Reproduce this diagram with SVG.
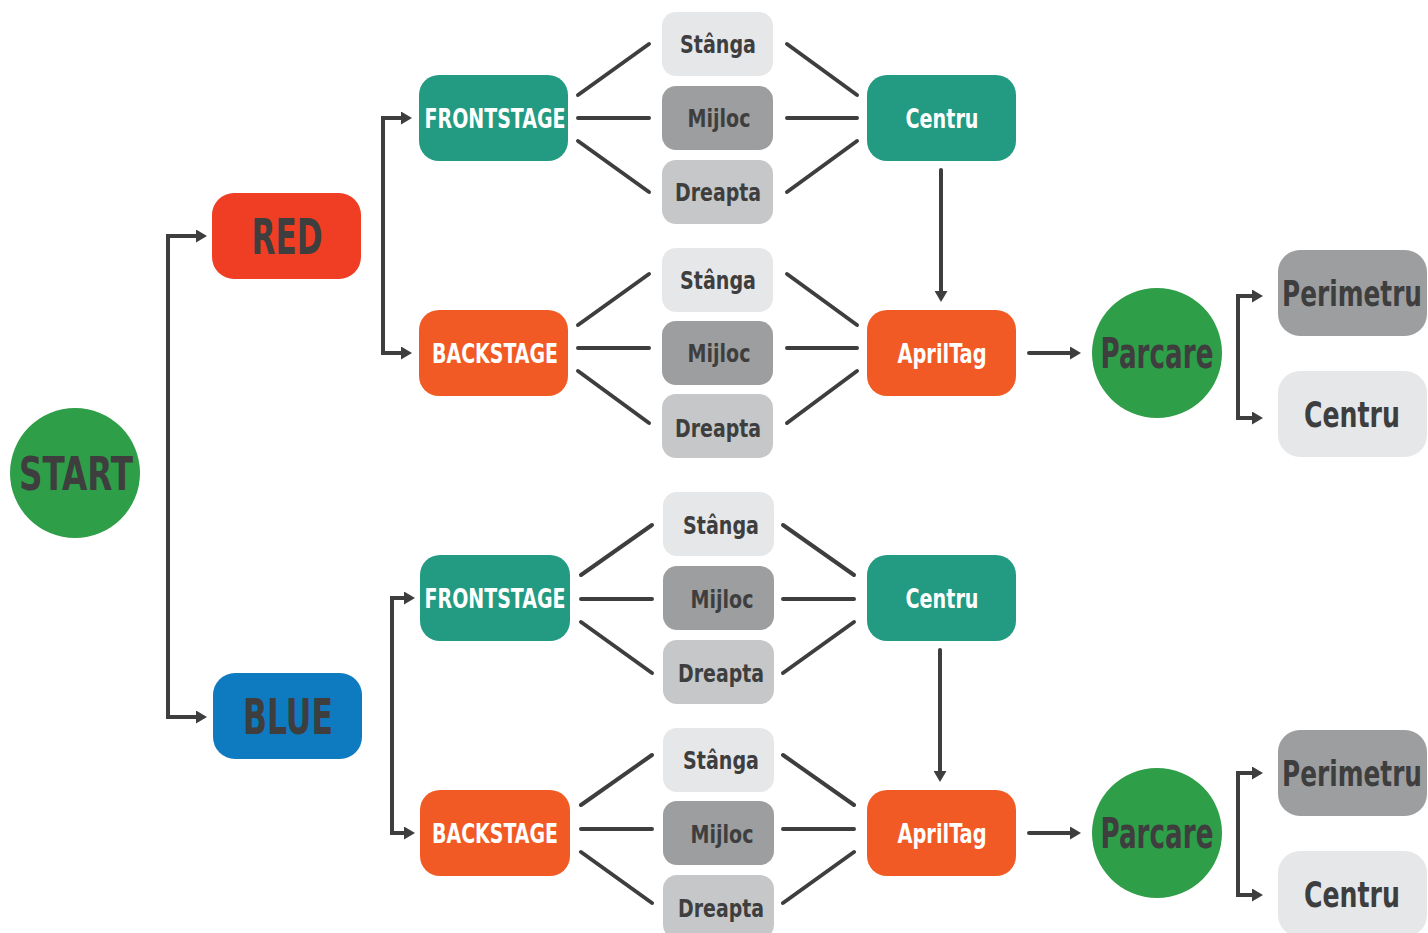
<svg xmlns="http://www.w3.org/2000/svg" width="1428" height="933" viewBox="0 0 1428 933">
  <style>
    .t { font-family: "Liberation Sans Narrow", "DejaVu Sans Condensed", "Liberation Sans", sans-serif; font-weight: bold; text-anchor: middle; }
    .dark { fill: #3e3e3f; }
    .light { fill: #ffffff; }
    .ln { stroke: #3e3e3f; stroke-width: 4; fill: none; stroke-linecap: round; stroke-linejoin: miter; }
    .arr { marker-end: url(#ah); }
    .teal { fill: #229b82; }
    .orange { fill: #f15a24; }
    .red { fill: #ef3e23; }
    .blue { fill: #0e7bc1; }
    .green { fill: #2e9e48; }
    .g1 { fill: #e6e7e8; }
    .g2 { fill: #9d9ea0; }
    .g3 { fill: #c6c7c8; }
  </style>
  <defs>
    <marker id="ah" markerWidth="11" markerHeight="13" refX="1" refY="6.5" orient="auto" markerUnits="userSpaceOnUse">
      <path d="M0,0 L11,6.5 L0,13 Z" fill="#3e3e3f"/>
    </marker>
  </defs>
  <rect width="1428" height="933" fill="#ffffff"/>

  <!-- connectors -->
  <g id="connectors">
    <!-- start split -->
    <path class="ln arr" d="M168,717 L168,236 L197,236"/>
    <path class="ln arr" d="M168,480 L168,717 L197,717"/>
    <!-- red split -->
    <path class="ln arr" d="M383,353 L383,118 L402,118"/>
    <path class="ln arr" d="M383,200 L383,353 L402,353"/>
    <!-- blue split -->
    <path class="ln arr" d="M392,833 L392,598 L405,598"/>
    <path class="ln arr" d="M392,700 L392,833 L405,833"/>

    <!-- red frontstage fan -->
    <path class="ln" d="M578,95 L649,44 M578,118 L649,118 M578,141 L649,192"/>
    <path class="ln" d="M787,44 L857,95 M787,118 L857,118 M787,192 L857,141"/>
    <!-- red backstage fan -->
    <path class="ln" d="M578,325 L649,274 M578,348 L649,348 M578,371 L649,423"/>
    <path class="ln" d="M787,274 L857,325 M787,348 L857,348 M787,423 L857,371"/>
    <!-- blue frontstage fan -->
    <path class="ln" d="M581,575 L652,525 M581,599 L652,599 M581,622 L652,673"/>
    <path class="ln" d="M783,525 L854,575 M783,599 L854,599 M783,673 L854,622"/>
    <!-- blue backstage fan -->
    <path class="ln" d="M581,805 L652,755 M581,829 L652,829 M581,852 L652,903"/>
    <path class="ln" d="M783,755 L854,805 M783,829 L854,829 M783,903 L854,852"/>

    <!-- centru to apriltag -->
    <path class="ln arr" d="M941,170 L941,292"/>
    <path class="ln arr" d="M940,650 L940,772"/>
    <!-- apriltag to parcare -->
    <path class="ln arr" d="M1029,353 L1071,353"/>
    <path class="ln arr" d="M1029,833 L1071,833"/>
    <!-- parcare split -->
    <path class="ln arr" d="M1238,418 L1238,296 L1253,296"/>
    <path class="ln arr" d="M1238,330 L1238,418 L1253,418"/>
    <path class="ln arr" d="M1238,895 L1238,773 L1253,773"/>
    <path class="ln arr" d="M1238,810 L1238,895 L1253,895"/>
  </g>

  <!-- start -->
  <g id="start">
    <circle class="green" cx="75" cy="473" r="65"/>
    <text class="t dark" x="76" y="490" font-size="47" textLength="114" lengthAdjust="spacingAndGlyphs">START</text>
  </g>

  <!-- alliance colours -->
  <g id="red">
    <rect class="red" x="212" y="193" width="149" height="86" rx="22"/>
    <text class="t dark" x="287" y="254" font-size="50" textLength="71" lengthAdjust="spacingAndGlyphs">RED</text>
  </g>
  <g id="blue">
    <rect class="blue" x="213" y="673" width="149" height="86" rx="22"/>
    <text class="t dark" x="288" y="734" font-size="50" textLength="90" lengthAdjust="spacingAndGlyphs">BLUE</text>
  </g>

  <!-- red side -->
  <g id="red-frontstage">
    <rect class="teal" x="419" y="75" width="149" height="86" rx="20"/>
    <text class="t light" x="495" y="128" font-size="27" textLength="141" lengthAdjust="spacingAndGlyphs">FRONTSTAGE</text>
  </g>
  <g id="red-backstage">
    <rect class="orange" x="419" y="310" width="149" height="86" rx="20"/>
    <text class="t light" x="495" y="363" font-size="27" textLength="126" lengthAdjust="spacingAndGlyphs">BACKSTAGE</text>
  </g>
  <g id="red-f-stanga">
    <rect class="g1" x="662" y="12" width="111" height="64" rx="14"/>
    <text class="t dark" x="718" y="53" font-size="25" textLength="76" lengthAdjust="spacingAndGlyphs">Stânga</text>
  </g>
  <g id="red-f-mijloc">
    <rect class="g2" x="662" y="86" width="111" height="64" rx="14"/>
    <text class="t dark" x="719" y="127" font-size="25" textLength="63" lengthAdjust="spacingAndGlyphs">Mijloc</text>
  </g>
  <g id="red-f-dreapta">
    <rect class="g3" x="662" y="160" width="111" height="64" rx="14"/>
    <text class="t dark" x="718" y="201" font-size="25" textLength="86" lengthAdjust="spacingAndGlyphs">Dreapta</text>
  </g>
  <g id="red-b-stanga">
    <rect class="g1" x="662" y="248" width="111" height="64" rx="14"/>
    <text class="t dark" x="718" y="289" font-size="25" textLength="76" lengthAdjust="spacingAndGlyphs">Stânga</text>
  </g>
  <g id="red-b-mijloc">
    <rect class="g2" x="662" y="321" width="111" height="64" rx="14"/>
    <text class="t dark" x="719" y="362" font-size="25" textLength="63" lengthAdjust="spacingAndGlyphs">Mijloc</text>
  </g>
  <g id="red-b-dreapta">
    <rect class="g3" x="662" y="394" width="111" height="64" rx="14"/>
    <text class="t dark" x="718" y="437" font-size="25" textLength="86" lengthAdjust="spacingAndGlyphs">Dreapta</text>
  </g>
  <g id="red-centru">
    <rect class="teal" x="867" y="75" width="149" height="86" rx="20"/>
    <text class="t light" x="942" y="128" font-size="27" textLength="73" lengthAdjust="spacingAndGlyphs">Centru</text>
  </g>
  <g id="red-apriltag">
    <rect class="orange" x="867" y="310" width="149" height="86" rx="20"/>
    <text class="t light" x="942" y="363" font-size="27" textLength="89" lengthAdjust="spacingAndGlyphs">AprilTag</text>
  </g>
  <g id="red-parcare">
    <circle class="green" cx="1157" cy="353" r="65"/>
    <text class="t dark" x="1157" y="368" font-size="42" textLength="113" lengthAdjust="spacingAndGlyphs">Parcare</text>
  </g>
  <g id="red-perimetru">
    <rect class="g2" x="1278" y="250" width="149" height="86" rx="22"/>
    <text class="t dark" x="1352" y="306" font-size="36" textLength="140" lengthAdjust="spacingAndGlyphs">Perimetru</text>
  </g>
  <g id="red-park-centru">
    <rect class="g1" x="1278" y="371" width="149" height="86" rx="22"/>
    <text class="t dark" x="1352" y="427" font-size="36" textLength="96" lengthAdjust="spacingAndGlyphs">Centru</text>
  </g>

  <!-- blue side -->
  <g id="blue-frontstage">
    <rect class="teal" x="420" y="555" width="150" height="86" rx="20"/>
    <text class="t light" x="495" y="608" font-size="27" textLength="141" lengthAdjust="spacingAndGlyphs">FRONTSTAGE</text>
  </g>
  <g id="blue-backstage">
    <rect class="orange" x="420" y="790" width="150" height="86" rx="20"/>
    <text class="t light" x="495" y="843" font-size="27" textLength="126" lengthAdjust="spacingAndGlyphs">BACKSTAGE</text>
  </g>
  <g id="blue-f-stanga">
    <rect class="g1" x="663" y="492" width="111" height="64" rx="14"/>
    <text class="t dark" x="721" y="534" font-size="25" textLength="76" lengthAdjust="spacingAndGlyphs">Stânga</text>
  </g>
  <g id="blue-f-mijloc">
    <rect class="g2" x="663" y="566" width="111" height="64" rx="14"/>
    <text class="t dark" x="722" y="608" font-size="25" textLength="63" lengthAdjust="spacingAndGlyphs">Mijloc</text>
  </g>
  <g id="blue-f-dreapta">
    <rect class="g3" x="663" y="640" width="111" height="64" rx="14"/>
    <text class="t dark" x="721" y="682" font-size="25" textLength="86" lengthAdjust="spacingAndGlyphs">Dreapta</text>
  </g>
  <g id="blue-b-stanga">
    <rect class="g1" x="663" y="728" width="111" height="64" rx="14"/>
    <text class="t dark" x="721" y="769" font-size="25" textLength="76" lengthAdjust="spacingAndGlyphs">Stânga</text>
  </g>
  <g id="blue-b-mijloc">
    <rect class="g2" x="663" y="801" width="111" height="64" rx="14"/>
    <text class="t dark" x="722" y="843" font-size="25" textLength="63" lengthAdjust="spacingAndGlyphs">Mijloc</text>
  </g>
  <g id="blue-b-dreapta">
    <rect class="g3" x="663" y="875" width="111" height="64" rx="14"/>
    <text class="t dark" x="721" y="917" font-size="25" textLength="86" lengthAdjust="spacingAndGlyphs">Dreapta</text>
  </g>
  <g id="blue-centru">
    <rect class="teal" x="867" y="555" width="149" height="86" rx="20"/>
    <text class="t light" x="942" y="608" font-size="27" textLength="73" lengthAdjust="spacingAndGlyphs">Centru</text>
  </g>
  <g id="blue-apriltag">
    <rect class="orange" x="867" y="790" width="149" height="86" rx="20"/>
    <text class="t light" x="942" y="843" font-size="27" textLength="89" lengthAdjust="spacingAndGlyphs">AprilTag</text>
  </g>
  <g id="blue-parcare">
    <circle class="green" cx="1157" cy="833" r="65"/>
    <text class="t dark" x="1157" y="848" font-size="42" textLength="113" lengthAdjust="spacingAndGlyphs">Parcare</text>
  </g>
  <g id="blue-perimetru">
    <rect class="g2" x="1278" y="730" width="149" height="86" rx="22"/>
    <text class="t dark" x="1352" y="786" font-size="36" textLength="140" lengthAdjust="spacingAndGlyphs">Perimetru</text>
  </g>
  <g id="blue-park-centru">
    <rect class="g1" x="1278" y="851" width="149" height="86" rx="22"/>
    <text class="t dark" x="1352" y="907" font-size="36" textLength="96" lengthAdjust="spacingAndGlyphs">Centru</text>
  </g>
</svg>
